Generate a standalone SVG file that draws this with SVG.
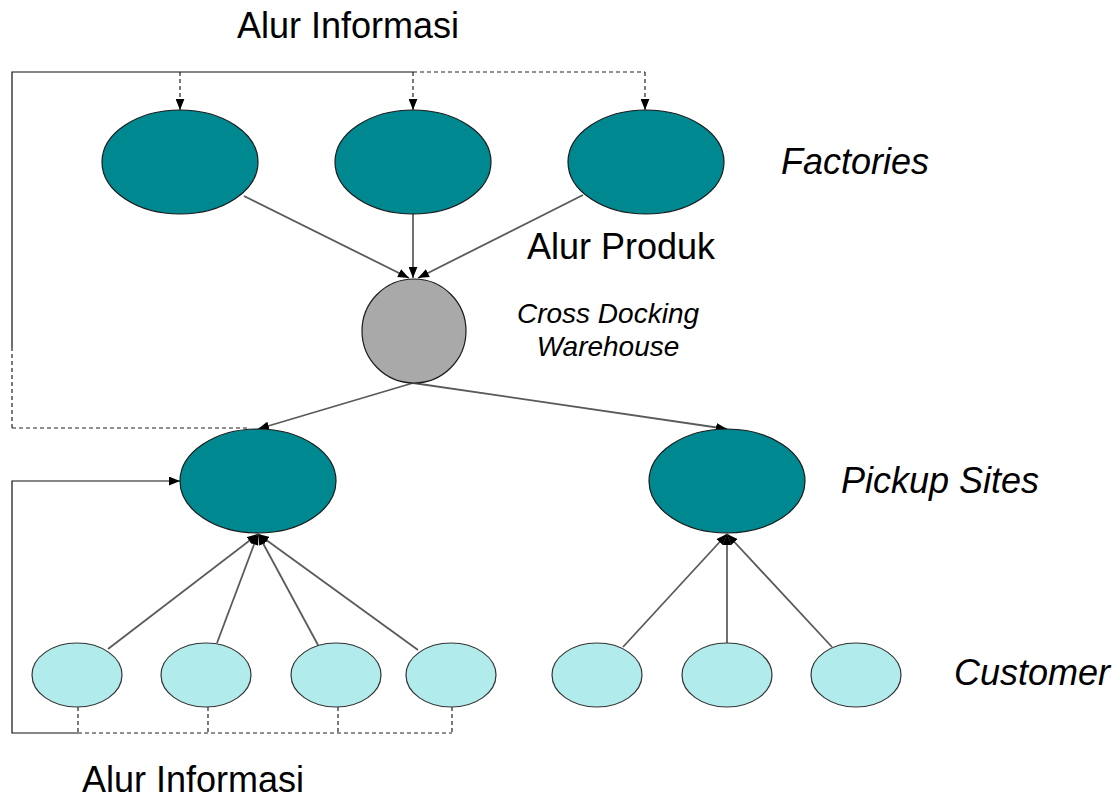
<svg xmlns="http://www.w3.org/2000/svg" width="1120" height="800" viewBox="0 0 1120 800">
  <style>
    .lbl { font-family: "Liberation Sans", Arial, sans-serif; fill: #000; }
    .it { font-style: italic; }
    .fac { fill: #008891; stroke: #1a1a1a; stroke-width: 1.2; }
    .cust { fill: #b2ebeb; stroke: #333; stroke-width: 1.2; }
    .wh { fill: #a9a9a9; stroke: #1a1a1a; stroke-width: 1.2; }
    .diag { stroke: #5a5a5a; stroke-width: 1.8; fill: none; }
    .solid { stroke: #111; stroke-width: 1.2; fill: none; }
    .dash { stroke: #222; stroke-width: 1.2; fill: none; stroke-dasharray: 4 3; }
  </style>
  <defs>
    <marker id="arr" viewBox="0 0 10 8" refX="10" refY="4" markerWidth="11" markerHeight="9" markerUnits="userSpaceOnUse" orient="auto">
      <path d="M0,0 L10,4 L0,8 Z" fill="#000"/>
    </marker>
  </defs>
  <rect width="1120" height="800" fill="#fff"/>

  <g id="connectors">
    <!-- top information flow -->
    <polyline class="solid" points="12,347 12,72 413,72"/>
    <line class="dash" x1="413" y1="72" x2="645" y2="72"/>
    <line class="dash" x1="12" y1="347" x2="12" y2="428"/>
    <line class="dash" x1="12" y1="428" x2="250" y2="428"/>
    <line class="dash" x1="180" y1="72" x2="180" y2="110" marker-end="url(#arr)"/>
    <line class="dash" x1="413" y1="72" x2="413" y2="110" marker-end="url(#arr)"/>
    <line class="dash" x1="645" y1="72" x2="645" y2="110" marker-end="url(#arr)"/>

    <!-- product flow -->
    <line class="diag" x1="244" y1="196" x2="409" y2="278" marker-end="url(#arr)"/>
    <line class="solid" x1="413" y1="214" x2="413" y2="278" marker-end="url(#arr)"/>
    <line class="diag" x1="583" y1="195" x2="418" y2="278" marker-end="url(#arr)"/>
    <line class="diag" x1="413" y1="383" x2="258" y2="429" marker-end="url(#arr)"/>
    <line class="diag" x1="413" y1="383" x2="727" y2="429" marker-end="url(#arr)"/>

    <!-- customers to left pickup -->
    <line class="diag" x1="108" y1="649" x2="258" y2="534" marker-end="url(#arr)"/>
    <line class="diag" x1="217" y1="643" x2="258" y2="534" marker-end="url(#arr)"/>
    <line class="diag" x1="318" y1="645" x2="258" y2="534" marker-end="url(#arr)"/>
    <line class="diag" x1="418" y1="650" x2="258" y2="534" marker-end="url(#arr)"/>

    <!-- customers to right pickup -->
    <line class="diag" x1="623" y1="647" x2="727" y2="534" marker-end="url(#arr)"/>
    <line class="solid" x1="727" y1="643" x2="727" y2="534" marker-end="url(#arr)"/>
    <line class="diag" x1="832" y1="647" x2="727" y2="534" marker-end="url(#arr)"/>

    <!-- bottom information flow -->
    <line class="dash" x1="78" y1="707" x2="78" y2="733"/>
    <line class="dash" x1="208" y1="707" x2="208" y2="733"/>
    <line class="dash" x1="338" y1="707" x2="338" y2="733"/>
    <line class="dash" x1="452" y1="707" x2="452" y2="733"/>
    <line class="dash" x1="78" y1="733" x2="452" y2="733"/>
    <polyline class="solid" points="78,733 12,733 12,481 180,481" marker-end="url(#arr)"/>
  </g>

  <g id="factory1"><ellipse class="fac" cx="180" cy="162" rx="78" ry="52"/></g>
  <g id="factory2"><ellipse class="fac" cx="413" cy="162" rx="78" ry="52"/></g>
  <g id="factory3"><ellipse class="fac" cx="646" cy="162" rx="78" ry="52"/></g>

  <g id="warehouse"><circle class="wh" cx="414" cy="331" r="52"/></g>

  <g id="pickup1"><ellipse class="fac" cx="258" cy="481" rx="78" ry="52"/></g>
  <g id="pickup2"><ellipse class="fac" cx="727" cy="481" rx="78" ry="52"/></g>

  <g id="customer1"><ellipse class="cust" cx="77" cy="675" rx="45" ry="32"/></g>
  <g id="customer2"><ellipse class="cust" cx="206" cy="675" rx="45" ry="32"/></g>
  <g id="customer3"><ellipse class="cust" cx="336" cy="675" rx="45" ry="32"/></g>
  <g id="customer4"><ellipse class="cust" cx="451" cy="675" rx="45" ry="32"/></g>
  <g id="customer5"><ellipse class="cust" cx="597" cy="675" rx="45" ry="32"/></g>
  <g id="customer6"><ellipse class="cust" cx="727" cy="675" rx="45" ry="32"/></g>
  <g id="customer7"><ellipse class="cust" cx="856" cy="675" rx="45" ry="32"/></g>

  <g id="labels">
    <text class="lbl" x="348" y="38" font-size="36" text-anchor="middle">Alur Informasi</text>
    <text class="lbl it" x="781" y="174" font-size="36">Factories</text>
    <text class="lbl" x="527" y="259" font-size="36">Alur Produk</text>
    <text class="lbl it" x="608" y="323" font-size="28" text-anchor="middle">Cross Docking</text>
    <text class="lbl it" x="608" y="356" font-size="28" text-anchor="middle">Warehouse</text>
    <text class="lbl it" x="841" y="493" font-size="36">Pickup Sites</text>
    <text class="lbl it" x="954" y="685" font-size="36">Customer</text>
    <text class="lbl" x="193" y="792" font-size="36" text-anchor="middle">Alur Informasi</text>
  </g>
</svg>
